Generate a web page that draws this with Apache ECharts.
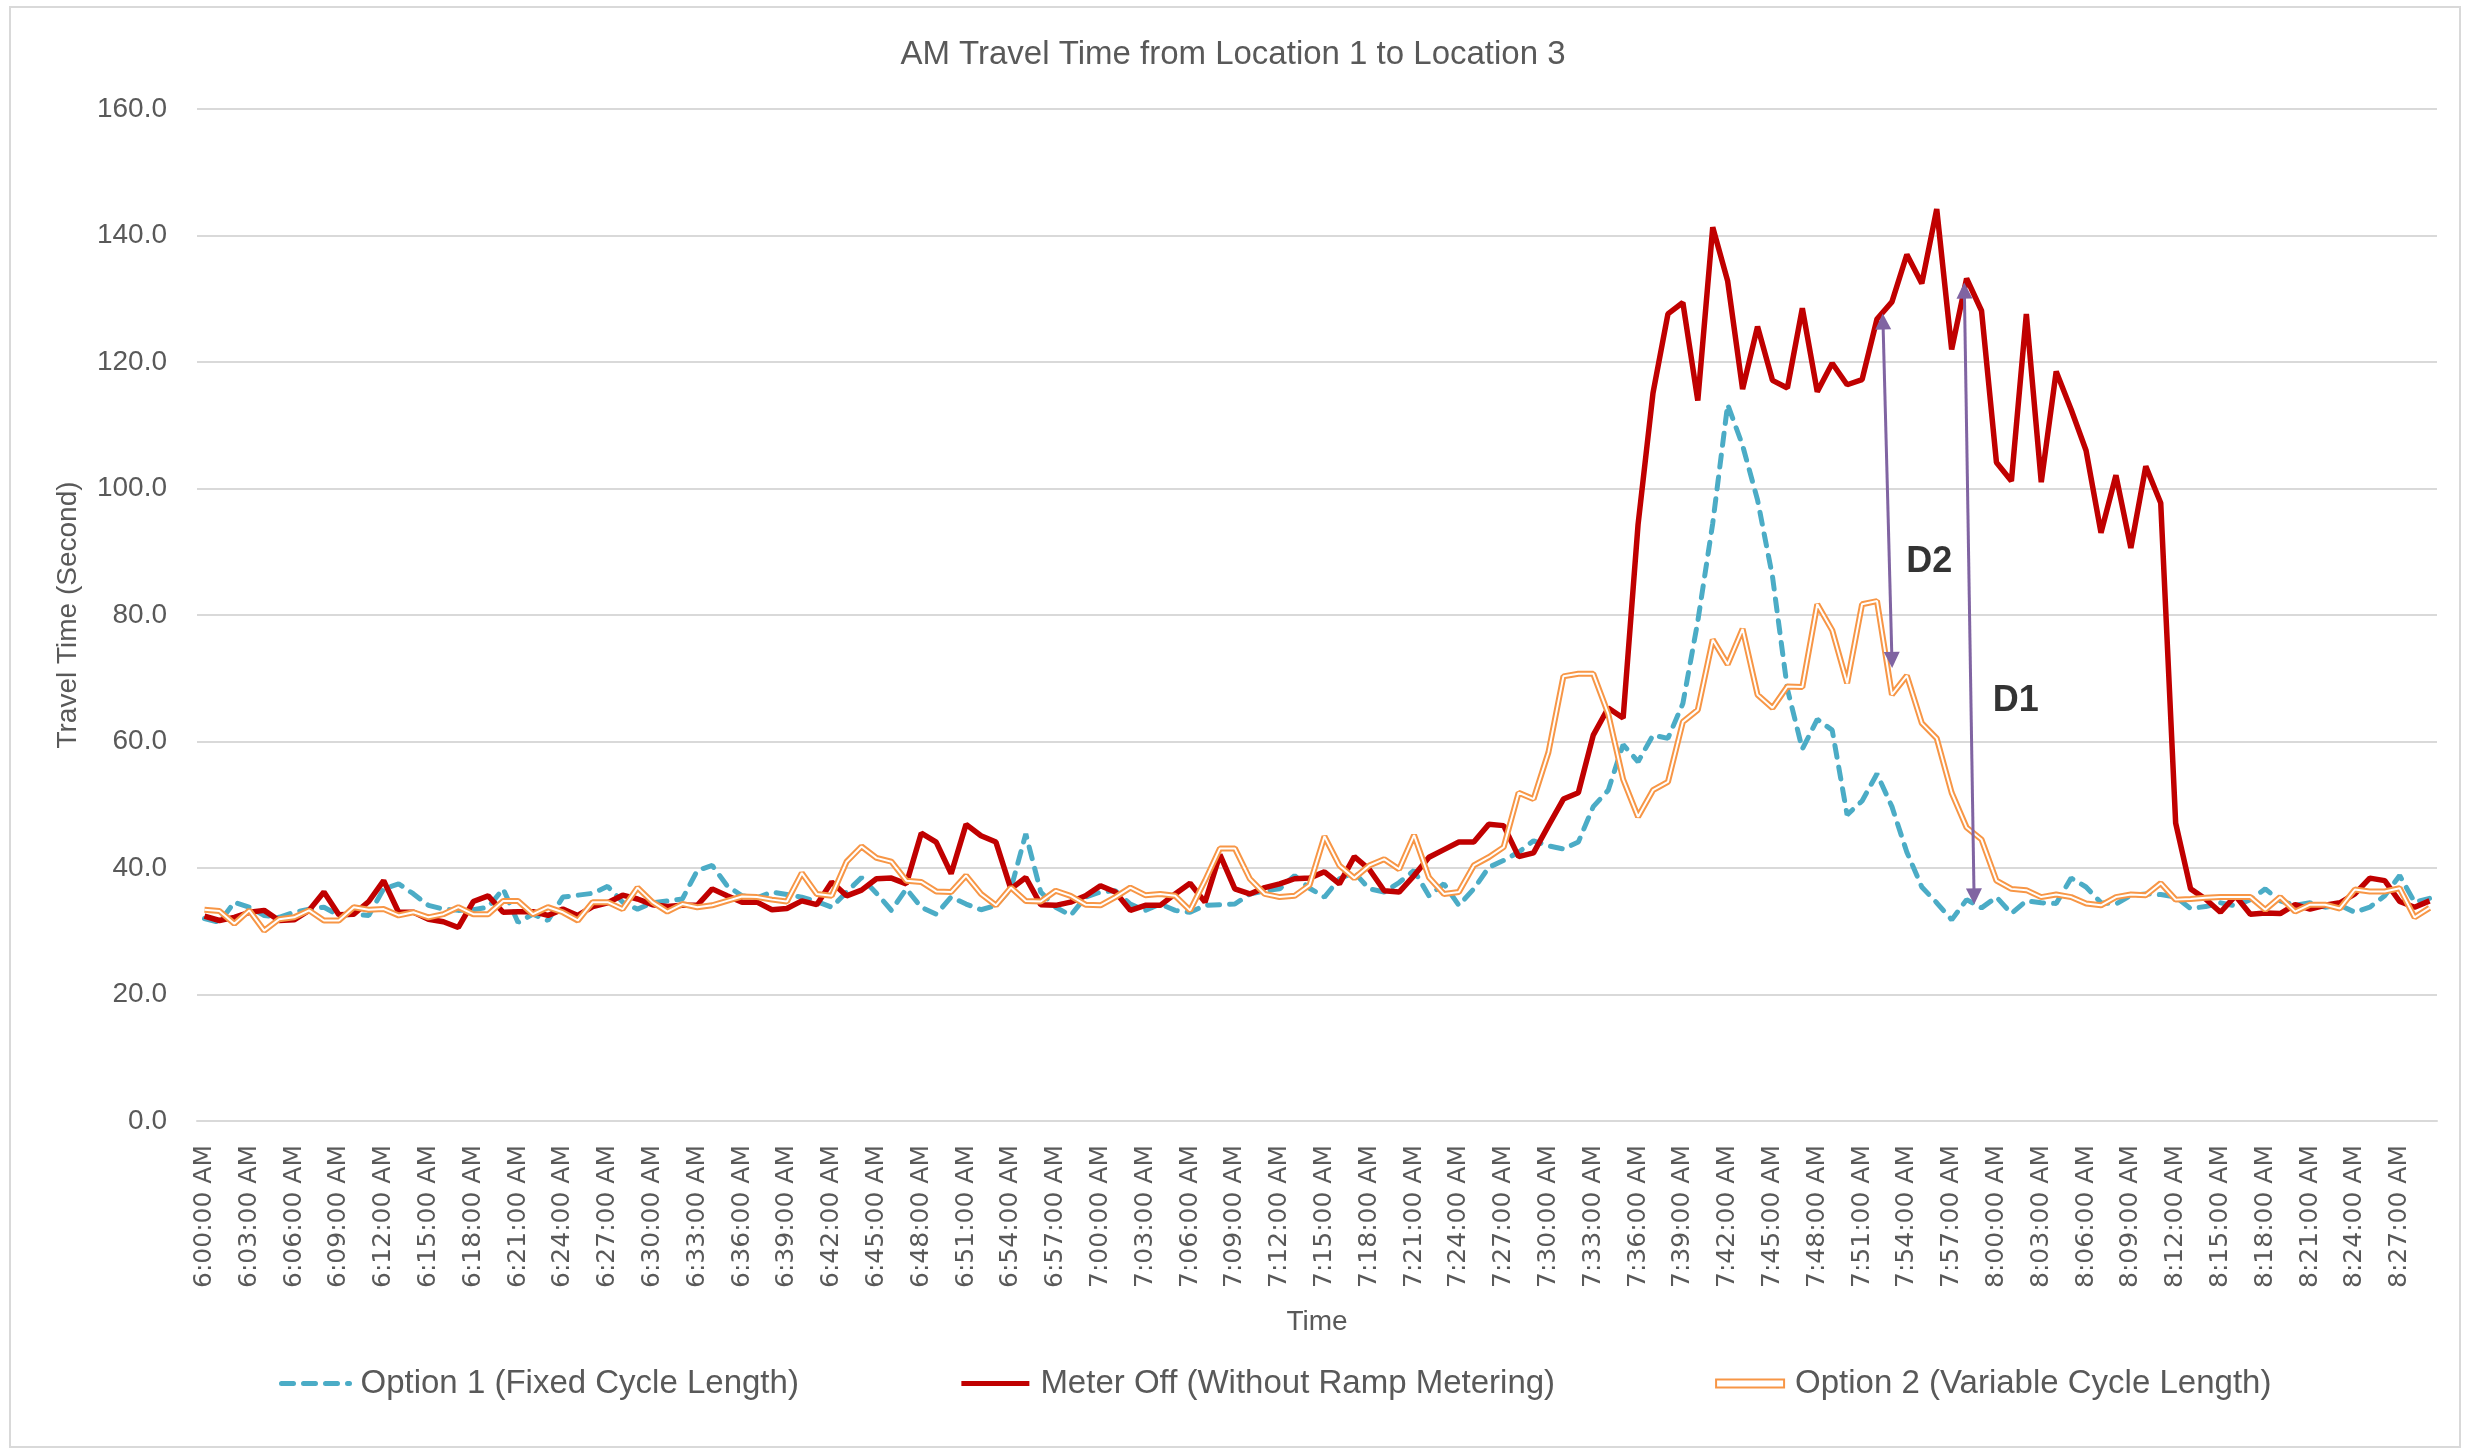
<!DOCTYPE html>
<html>
<head>
<meta charset="utf-8">
<script src="https://cdn.jsdelivr.net/npm/echarts@6/dist/echarts.min.js"></script>
<style>
  html, body { margin: 0; padding: 0; background: #fff; }
  #chart { width: 2466px; height: 1452px; }
</style>
</head>
<body>
<div id="chart"></div>
<script>
// one sample per minute, 6:00 to 8:29
const times = [
  '6:00:00 AM','6:01:00 AM','6:02:00 AM','6:03:00 AM','6:04:00 AM','6:05:00 AM','6:06:00 AM','6:07:00 AM','6:08:00 AM','6:09:00 AM',
  '6:10:00 AM','6:11:00 AM','6:12:00 AM','6:13:00 AM','6:14:00 AM','6:15:00 AM','6:16:00 AM','6:17:00 AM','6:18:00 AM','6:19:00 AM',
  '6:20:00 AM','6:21:00 AM','6:22:00 AM','6:23:00 AM','6:24:00 AM','6:25:00 AM','6:26:00 AM','6:27:00 AM','6:28:00 AM','6:29:00 AM',
  '6:30:00 AM','6:31:00 AM','6:32:00 AM','6:33:00 AM','6:34:00 AM','6:35:00 AM','6:36:00 AM','6:37:00 AM','6:38:00 AM','6:39:00 AM',
  '6:40:00 AM','6:41:00 AM','6:42:00 AM','6:43:00 AM','6:44:00 AM','6:45:00 AM','6:46:00 AM','6:47:00 AM','6:48:00 AM','6:49:00 AM',
  '6:50:00 AM','6:51:00 AM','6:52:00 AM','6:53:00 AM','6:54:00 AM','6:55:00 AM','6:56:00 AM','6:57:00 AM','6:58:00 AM','6:59:00 AM',
  '7:00:00 AM','7:01:00 AM','7:02:00 AM','7:03:00 AM','7:04:00 AM','7:05:00 AM','7:06:00 AM','7:07:00 AM','7:08:00 AM','7:09:00 AM',
  '7:10:00 AM','7:11:00 AM','7:12:00 AM','7:13:00 AM','7:14:00 AM','7:15:00 AM','7:16:00 AM','7:17:00 AM','7:18:00 AM','7:19:00 AM',
  '7:20:00 AM','7:21:00 AM','7:22:00 AM','7:23:00 AM','7:24:00 AM','7:25:00 AM','7:26:00 AM','7:27:00 AM','7:28:00 AM','7:29:00 AM',
  '7:30:00 AM','7:31:00 AM','7:32:00 AM','7:33:00 AM','7:34:00 AM','7:35:00 AM','7:36:00 AM','7:37:00 AM','7:38:00 AM','7:39:00 AM',
  '7:40:00 AM','7:41:00 AM','7:42:00 AM','7:43:00 AM','7:44:00 AM','7:45:00 AM','7:46:00 AM','7:47:00 AM','7:48:00 AM','7:49:00 AM',
  '7:50:00 AM','7:51:00 AM','7:52:00 AM','7:53:00 AM','7:54:00 AM','7:55:00 AM','7:56:00 AM','7:57:00 AM','7:58:00 AM','7:59:00 AM',
  '8:00:00 AM','8:01:00 AM','8:02:00 AM','8:03:00 AM','8:04:00 AM','8:05:00 AM','8:06:00 AM','8:07:00 AM','8:08:00 AM','8:09:00 AM',
  '8:10:00 AM','8:11:00 AM','8:12:00 AM','8:13:00 AM','8:14:00 AM','8:15:00 AM','8:16:00 AM','8:17:00 AM','8:18:00 AM','8:19:00 AM',
  '8:20:00 AM','8:21:00 AM','8:22:00 AM','8:23:00 AM','8:24:00 AM','8:25:00 AM','8:26:00 AM','8:27:00 AM','8:28:00 AM','8:29:00 AM'
]

// Option 1 (Fixed Cycle Length)
const option1 = [
  32.0,31.4,34.6,33.8,32.5,32.2,33.0,33.5,33.8,32.5,
  32.7,32.5,36.7,37.5,35.9,34.1,33.5,33.3,33.4,33.8,
  36.7,31.4,32.7,31.7,35.4,35.7,36.0,37.1,34.6,33.5,
  34.5,34.8,35.1,39.6,40.4,37.2,35.6,35.3,36.2,35.8,
  35.4,34.7,33.8,36.2,38.5,36.0,33.3,36.7,33.8,32.7,
  35.4,34.3,33.4,34.1,36.7,45.4,36.2,33.8,32.5,35.4,
  36.2,36.4,34.3,33.3,34.3,33.3,33.0,34.1,34.2,34.3,
  35.9,36.4,36.7,38.8,36.8,35.4,38.3,39.3,36.7,36.2,
  37.7,39.6,35.6,37.5,34.1,36.7,40.1,41.2,42.5,44.3,
  43.5,43.0,44.1,49.7,52.3,59.5,56.8,61.0,60.5,66.0,
  79.0,94.5,113.3,106.8,98.2,86.1,68.3,58.8,63.5,61.8,
  48.4,50.6,54.9,49.7,42.5,37.0,34.5,31.8,35.0,33.7,
  35.4,32.8,34.8,34.5,34.4,38.4,37.0,34.5,34.3,35.7,
  35.9,35.8,35.4,33.6,33.9,34.5,34.0,35.0,36.7,34.8,
  34.1,34.5,33.8,34.1,33.0,33.8,35.6,38.8,34.6,35.2
]

// Meter Off (Without Ramp Metering)
const meterOff = [
  32.4,31.7,32.2,33.0,33.3,31.7,31.8,33.3,36.2,32.6,
  32.7,34.7,38.0,33.0,33.0,31.9,31.5,30.6,34.7,35.6,
  33.0,33.1,33.1,32.5,33.5,32.5,33.9,34.5,35.7,35.1,
  34.2,33.9,34.1,34.1,36.7,35.6,34.6,34.6,33.4,33.6,
  34.8,34.2,37.8,35.6,36.5,38.3,38.4,37.5,45.5,44.1,
  39.1,46.9,45.1,44.1,36.7,38.5,34.2,34.1,34.6,35.6,
  37.2,36.2,33.3,34.1,34.1,35.9,37.6,34.6,42.1,36.7,
  35.9,36.9,37.5,38.3,38.4,39.4,37.5,41.8,39.8,36.4,
  36.2,38.8,41.7,42.9,44.1,44.1,46.9,46.7,41.8,42.4,
  46.7,50.9,51.9,61.0,65.3,63.7,94.3,115.1,127.6,129.4,
  113.9,141.3,132.8,115.7,125.6,117.1,115.9,128.5,115.3,119.8,
  116.4,117.2,126.8,129.5,137.0,132.4,144.2,122.0,133.2,128.1,
  104.1,101.2,127.6,101.0,118.5,112.5,106.0,93.0,102.1,90.6,
  103.5,97.7,47.1,36.7,35.1,33.0,35.6,32.7,32.9,32.8,
  34.2,33.5,34.1,34.5,35.9,38.4,38.0,34.7,33.8,34.8
]

// Option 2 (Variable Cycle Length)
const option2 = [
  33.4,33.2,31.2,33.3,30.1,31.9,32.2,33.3,31.7,31.7,
  33.8,33.4,33.5,32.5,33.0,32.2,32.7,33.8,32.7,32.7,
  34.8,34.8,32.7,33.8,33.0,31.7,34.6,34.6,33.5,36.9,
  34.6,33.1,34.3,33.8,34.1,34.8,35.5,35.4,35.0,34.7,
  39.2,35.9,35.6,41.0,43.4,41.6,41.0,38.0,37.8,36.3,
  36.2,38.8,35.9,34.1,36.9,34.8,34.7,36.4,35.6,34.2,
  34.1,35.4,36.9,35.7,35.9,35.6,33.3,38.0,43.1,43.1,
  38.3,35.9,35.4,35.6,37.3,45.0,40.4,38.4,40.4,41.4,
  39.8,45.2,38.5,35.9,36.2,40.4,41.7,43.3,51.9,50.9,
  58.3,70.3,70.7,70.7,64.4,54.0,48.1,52.3,53.6,63.1,
  65.0,76.1,72.2,77.8,67.4,65.3,68.7,68.6,81.7,77.6,
  69.2,81.7,82.2,67.4,70.4,62.9,60.5,51.9,46.4,44.5,
  38.0,36.7,36.5,35.4,35.8,35.4,34.4,34.1,35.4,35.8,
  35.7,37.6,35.0,35.1,35.3,35.4,35.4,35.4,33.4,35.4,
  33.1,34.2,34.2,33.6,36.6,36.3,36.3,36.8,32.2,33.7
]

// annotation arrows: [minute index, travel time] start/end
const arrowD2 = [[112.4, 126.4], [113.0, 72.9]]
const arrowD1 = [[117.85, 131.3], [118.5, 35.5]]
const annotLabels = [
  { name: 'D2', value: [115.5, 88.4] },
  { name: 'D1', value: [121.3, 66.4] }
]

const font = 'Liberation Sans'
const grey = '#595959'

const chart = echarts.init(document.getElementById('chart'))

const option = {
  animation: false,
  backgroundColor: '#fff',
  title: {
    text: 'AM Travel Time from Location 1 to Location 3',
    left: 'center',
    top: 33,
    textStyle: { fontFamily: font, fontSize: 33, fontWeight: 'normal', color: grey }
  },
  legend: {
    left: 274,
    top: 1362,
    itemWidth: 68,
    itemHeight: 8,
    itemGap: 160,
    itemStyle: { opacity: 0 },
    lineStyle: { width: 5 },
    textStyle: { fontFamily: font, fontSize: 33, color: grey, padding: [0, 0, 0, 6] },
    data: [
      { name: 'Option 1 (Fixed Cycle Length)' },
      { name: 'Meter Off (Without Ramp Metering)' },
      {
        name: 'Option 2 (Variable Cycle Length)',
        icon: 'rect',
        itemStyle: { opacity: 1, color: '#fff', borderColor: '#F79646', borderWidth: 2 }
      }
    ]
  },
  grid: { left: 197, right: 29, top: 109, bottom: 331 },
  xAxis: [
    {
      type: 'category',
      data: times,
      boundaryGap: true,
      name: 'Time',
      nameLocation: 'middle',
      nameGap: 187,
      nameTextStyle: { fontFamily: font, fontSize: 28, color: grey },
      axisLine: { lineStyle: { color: '#D9D9D9', width: 2 } },
      axisTick: { show: false },
      axisLabel: {
        interval: 2,
        rotate: 90,
        margin: 24,
        fontFamily: 'DejaVu Sans',
        fontSize: 25,
        color: grey
      }
    },
    {
      // hidden value axis for the annotation arrows
      type: 'value',
      min: -0.5,
      max: 149.5,
      show: false
    }
  ],
  yAxis: {
    type: 'value',
    min: 0,
    max: 160,
    interval: 20,
    name: 'Travel Time (Second)',
    nameLocation: 'middle',
    nameGap: 115,
    nameRotate: 90,
    nameTextStyle: { fontFamily: font, fontSize: 28, color: grey },
    axisLine: { show: false },
    axisTick: { show: false },
    axisLabel: {
      margin: 30,
      fontFamily: font,
      fontSize: 28,
      color: grey,
      formatter: (v) => v.toFixed(1)
    },
    splitLine: { lineStyle: { color: '#D9D9D9', width: 2 } }
  },
  series: [
    {
      name: 'Option 1 (Fixed Cycle Length)',
      type: 'line',
      data: option1,
      symbol: 'none',
      itemStyle: { color: '#4BACC6' },
      lineStyle: { color: '#4BACC6', width: 5, type: [12, 10], cap: 'round' }
    },
    {
      name: 'Meter Off (Without Ramp Metering)',
      type: 'line',
      data: meterOff,
      symbol: 'none',
      itemStyle: { color: '#C00000' },
      lineStyle: { color: '#C00000', width: 5.5 }
    },
    {
      name: 'Option 2 (Variable Cycle Length)',
      type: 'line',
      data: option2,
      symbol: 'none',
      itemStyle: { color: '#F79646' },
      lineStyle: { color: '#F79646', width: 6 }
    },
    {
      // inner white stroke -> double line look
      name: 'option2-inner',
      type: 'line',
      data: option2,
      symbol: 'none',
      silent: true,
      lineStyle: { color: '#fff', width: 2 }
    },
    {
      name: 'annotations',
      type: 'scatter',
      xAxisIndex: 1,
      yAxisIndex: 0,
      data: annotLabels,
      symbolSize: 2,
      itemStyle: { color: 'rgba(0,0,0,0)' },
      silent: true,
      z: 10,
      label: {
        show: true,
        position: 'inside',
        formatter: '{b}',
        fontFamily: font,
        fontSize: 36,
        fontWeight: 'bold',
        color: '#000'
      },
      markLine: {
        silent: true,
        symbol: ['triangle', 'triangle'],
        symbolSize: 16,
        label: { show: false },
        lineStyle: { color: '#8064A2', width: 3, type: 'solid' },
        data: [
          [{ coord: arrowD2[0] }, { coord: arrowD2[1] }],
          [{ coord: arrowD1[0] }, { coord: arrowD1[1] }]
        ]
      }
    }
  ],
  graphic: [
    {
      type: 'rect',
      shape: { x: 10, y: 7, width: 2450, height: 1440 },
      style: { fill: 'none', stroke: '#D9D9D9', lineWidth: 2 },
      silent: true
    }
  ]
}

chart.setOption(option)
</script>
</body>
</html>
